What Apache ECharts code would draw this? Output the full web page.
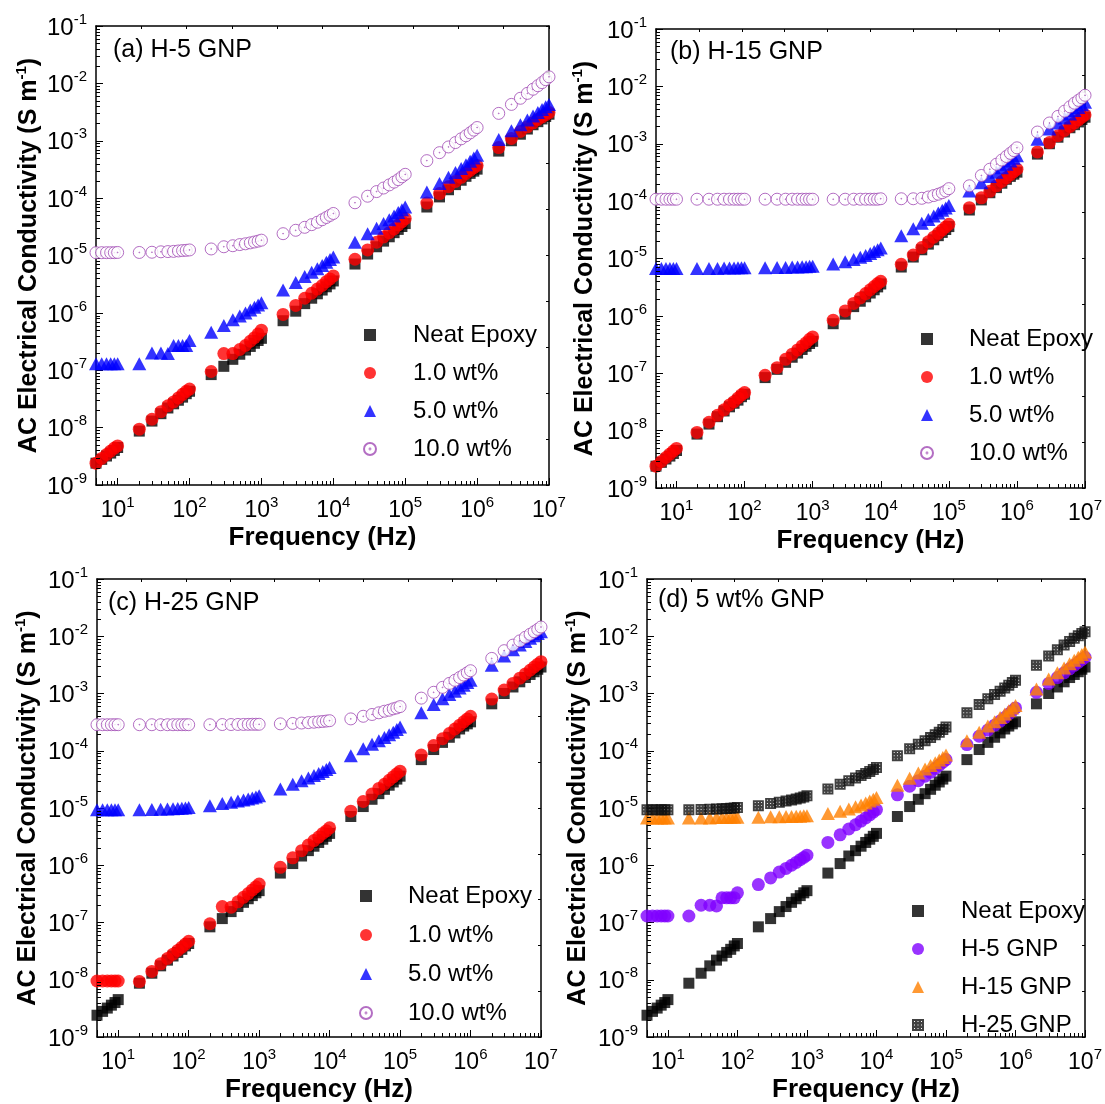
<!DOCTYPE html>
<html>
<head>
<meta charset="utf-8">
<title>AC Electrical Conductivity vs Frequency</title>
<script src="https://cdn.jsdelivr.net/npm/echarts@6/dist/echarts.min.js"></script>
<style>
  html, body { margin: 0; padding: 0; background: #ffffff; }
  #chart { width: 1105px; height: 1104px; }
</style>
</head>
<body>
<div id="chart"></div>
<script>
// Measurement frequencies (Hz)
const FREQ = [
  5, 6, 7, 8, 9, 10,
  20, 30, 40, 50, 60, 70, 80, 90, 100,
  200, 300, 400, 500, 600, 700, 800, 900, 1000,
  2000, 3000, 4000, 5000, 6000, 7000, 8000, 9000, 10000,
  2e4, 3e4, 4e4, 5e4, 6e4, 7e4, 8e4, 9e4, 1e5,
  2e5, 3e5, 4e5, 5e5, 6e5, 7e5, 8e5, 9e5, 1e6,
  2e6, 3e6, 4e6, 5e6, 6e6, 7e6, 8e6, 9e6, 1e7
];

// AC conductivity (S/m) — neat epoxy
const NEAT = [
  2.4e-9, 2.8e-9, 3.2e-9, 3.6e-9, 4.0e-9, 4.5e-9,
  8.7e-9, 1.3e-8, 1.75e-8, 2.2e-8, 2.6e-8, 3.0e-8, 3.4e-8, 3.9e-8, 4.3e-8,
  8.4e-8, 1.17e-7, 1.55e-7, 1.9e-7, 2.25e-7, 2.6e-7, 2.95e-7, 3.3e-7, 3.6e-7,
  7.3e-7, 1.07e-6, 1.45e-6, 1.8e-6, 2.15e-6, 2.5e-6, 2.85e-6, 3.2e-6, 3.6e-6,
  7.1e-6, 1.06e-5, 1.42e-5, 1.78e-5, 2.12e-5, 2.5e-5, 2.85e-5, 3.2e-5, 3.6e-5,
  7.0e-5, 1.05e-4, 1.4e-4, 1.72e-4, 2.05e-4, 2.4e-4, 2.7e-4, 2.95e-4, 3.2e-4,
  6.6e-4, 1.0e-3, 1.3e-3, 1.6e-3, 1.9e-3, 2.15e-3, 2.4e-3, 2.65e-3, 2.9e-3
];

// H-5 GNP
const H5_1 = [
  2.4e-9, 2.9e-9, 3.4e-9, 3.9e-9, 4.4e-9, 4.8e-9,
  9.4e-9, 1.4e-8, 1.9e-8, 2.4e-8, 2.8e-8, 3.3e-8, 3.8e-8, 4.3e-8, 4.7e-8,
  9.5e-8, 1.95e-7, 1.95e-7, 2.3e-7, 2.7e-7, 3.2e-7, 3.7e-7, 4.3e-7, 5.0e-7,
  9.4e-7, 1.35e-6, 1.8e-6, 2.2e-6, 2.6e-6, 3.0e-6, 3.5e-6, 3.9e-6, 4.4e-6,
  8.6e-6, 1.25e-5, 1.7e-5, 2.1e-5, 2.5e-5, 2.9e-5, 3.4e-5, 3.9e-5, 4.4e-5,
  8.2e-5, 1.2e-4, 1.58e-4, 1.95e-4, 2.3e-4, 2.7e-4, 3.05e-4, 3.4e-4, 3.7e-4,
  7.6e-4, 1.1e-3, 1.45e-3, 1.75e-3, 2.05e-3, 2.35e-3, 2.6e-3, 2.85e-3, 3.1e-3
];
const H5_5 = [
  1.3e-7, 1.3e-7, 1.3e-7, 1.3e-7, 1.3e-7, 1.3e-7,
  1.3e-7, 2.0e-7, 2.0e-7, 1.95e-7, 2.7e-7, 2.7e-7, 2.7e-7, 2.7e-7, 3.3e-7,
  4.6e-7, 6.0e-7, 7.6e-7, 8.8e-7, 1.0e-6, 1.12e-6, 1.25e-6, 1.37e-6, 1.5e-6,
  2.5e-6, 3.4e-6, 4.3e-6, 5.1e-6, 5.9e-6, 6.7e-6, 7.6e-6, 8.5e-6, 9.4e-6,
  1.7e-5, 2.4e-5, 3.0e-5, 3.6e-5, 4.2e-5, 4.9e-5, 5.6e-5, 6.3e-5, 7.0e-5,
  1.28e-4, 1.8e-4, 2.3e-4, 2.8e-4, 3.3e-4, 3.8e-4, 4.4e-4, 5.0e-4, 5.6e-4,
  1.05e-3, 1.5e-3, 1.9e-3, 2.3e-3, 2.7e-3, 3.1e-3, 3.5e-3, 3.9e-3, 4.3e-3
];
const H5_10 = [
  1.12e-5, 1.12e-5, 1.12e-5, 1.12e-5, 1.12e-5, 1.13e-5,
  1.13e-5, 1.14e-5, 1.16e-5, 1.17e-5, 1.18e-5, 1.2e-5, 1.22e-5, 1.23e-5, 1.25e-5,
  1.3e-5, 1.42e-5, 1.48e-5, 1.55e-5, 1.6e-5, 1.66e-5, 1.72e-5, 1.78e-5, 1.85e-5,
  2.4e-5, 2.75e-5, 3.1e-5, 3.45e-5, 3.8e-5, 4.2e-5, 4.6e-5, 5.0e-5, 5.4e-5,
  8.3e-5, 1.08e-4, 1.3e-4, 1.5e-4, 1.7e-4, 1.9e-4, 2.1e-4, 2.35e-4, 2.6e-4,
  4.5e-4, 6.2e-4, 7.8e-4, 9.3e-4, 1.08e-3, 1.22e-3, 1.37e-3, 1.53e-3, 1.7e-3,
  3.0e-3, 4.3e-3, 5.5e-3, 6.7e-3, 7.9e-3, 9.1e-3, 1.03e-2, 1.16e-2, 1.3e-2
];

// H-15 GNP
const H15_1 = [
  2.4e-9, 2.9e-9, 3.4e-9, 3.9e-9, 4.4e-9, 4.9e-9,
  9.3e-9, 1.4e-8, 1.85e-8, 2.3e-8, 2.8e-8, 3.2e-8, 3.7e-8, 4.2e-8, 4.6e-8,
  9.2e-8, 1.25e-7, 1.75e-7, 2.15e-7, 2.55e-7, 3.0e-7, 3.4e-7, 3.9e-7, 4.3e-7,
  8.4e-7, 1.22e-6, 1.65e-6, 2.05e-6, 2.45e-6, 2.85e-6, 3.25e-6, 3.65e-6, 4.0e-6,
  7.9e-6, 1.15e-5, 1.55e-5, 1.95e-5, 2.35e-5, 2.75e-5, 3.15e-5, 3.55e-5, 3.95e-5,
  7.7e-5, 1.14e-4, 1.48e-4, 1.85e-4, 2.2e-4, 2.55e-4, 2.9e-4, 3.25e-4, 3.6e-4,
  7.2e-4, 1.05e-3, 1.38e-3, 1.7e-3, 2.0e-3, 2.3e-3, 2.6e-3, 2.9e-3, 3.2e-3
];
const H15_5 = [
  6.7e-6, 6.7e-6, 6.7e-6, 6.7e-6, 6.7e-6, 6.7e-6,
  6.7e-6, 6.7e-6, 6.7e-6, 6.8e-6, 6.8e-6, 6.8e-6, 6.9e-6, 6.9e-6, 6.9e-6,
  6.9e-6, 7.0e-6, 7.0e-6, 7.1e-6, 7.1e-6, 7.2e-6, 7.2e-6, 7.3e-6, 7.3e-6,
  8.0e-6, 8.8e-6, 9.6e-6, 1.05e-5, 1.13e-5, 1.22e-5, 1.32e-5, 1.42e-5, 1.52e-5,
  2.5e-5, 3.3e-5, 4.1e-5, 4.8e-5, 5.5e-5, 6.2e-5, 6.9e-5, 7.6e-5, 8.4e-5,
  1.5e-4, 2.1e-4, 2.7e-4, 3.2e-4, 3.8e-4, 4.4e-4, 5.0e-4, 5.6e-4, 6.2e-4,
  1.2e-3, 1.8e-3, 2.3e-3, 2.8e-3, 3.3e-3, 3.8e-3, 4.3e-3, 4.8e-3, 5.3e-3
];
const H15_10 = [
  1.08e-4, 1.08e-4, 1.08e-4, 1.08e-4, 1.08e-4, 1.08e-4,
  1.08e-4, 1.08e-4, 1.08e-4, 1.08e-4, 1.08e-4, 1.08e-4, 1.08e-4, 1.08e-4, 1.08e-4,
  1.08e-4, 1.08e-4, 1.08e-4, 1.08e-4, 1.08e-4, 1.08e-4, 1.08e-4, 1.08e-4, 1.08e-4,
  1.08e-4, 1.08e-4, 1.08e-4, 1.08e-4, 1.08e-4, 1.08e-4, 1.08e-4, 1.08e-4, 1.1e-4,
  1.1e-4, 1.1e-4, 1.12e-4, 1.18e-4, 1.25e-4, 1.32e-4, 1.4e-4, 1.5e-4, 1.65e-4,
  1.85e-4, 2.8e-4, 3.6e-4, 4.4e-4, 5.2e-4, 6.0e-4, 6.8e-4, 7.6e-4, 8.5e-4,
  1.6e-3, 2.3e-3, 3.0e-3, 3.7e-3, 4.4e-3, 5.1e-3, 5.7e-3, 6.3e-3, 7.0e-3
];

// H-25 GNP
const H25_1 = [
  9.5e-9, 9.5e-9, 9.5e-9, 9.5e-9, 9.5e-9, 9.5e-9,
  9.3e-9, 1.4e-8, 1.9e-8, 2.35e-8, 2.8e-8, 3.25e-8, 3.7e-8, 4.2e-8, 4.7e-8,
  9.5e-8, 1.9e-7, 1.85e-7, 2.3e-7, 2.75e-7, 3.2e-7, 3.7e-7, 4.2e-7, 4.7e-7,
  9.2e-7, 1.35e-6, 1.8e-6, 2.25e-6, 2.7e-6, 3.1e-6, 3.6e-6, 4.0e-6, 4.5e-6,
  8.8e-6, 1.3e-5, 1.75e-5, 2.2e-5, 2.6e-5, 3.05e-5, 3.5e-5, 3.95e-5, 4.4e-5,
  8.4e-5, 1.23e-4, 1.62e-4, 2.0e-4, 2.4e-4, 2.8e-4, 3.2e-4, 3.6e-4, 4.0e-4,
  8.0e-4, 1.15e-3, 1.5e-3, 1.85e-3, 2.2e-3, 2.55e-3, 2.9e-3, 3.25e-3, 3.6e-3
];
const H25_5 = [
  9.3e-6, 9.3e-6, 9.3e-6, 9.3e-6, 9.3e-6, 9.3e-6,
  9.3e-6, 9.4e-6, 9.5e-6, 9.6e-6, 9.7e-6, 9.8e-6, 9.9e-6, 1.0e-5, 1.02e-5,
  1.1e-5, 1.2e-5, 1.26e-5, 1.32e-5, 1.38e-5, 1.44e-5, 1.5e-5, 1.56e-5, 1.63e-5,
  2.15e-5, 2.6e-5, 3.0e-5, 3.35e-5, 3.7e-5, 4.0e-5, 4.35e-5, 4.7e-5, 5.1e-5,
  8.2e-5, 1.08e-4, 1.3e-4, 1.5e-4, 1.7e-4, 1.9e-4, 2.1e-4, 2.35e-4, 2.6e-4,
  4.6e-4, 6.4e-4, 8.1e-4, 9.6e-4, 1.1e-3, 1.25e-3, 1.4e-3, 1.55e-3, 1.7e-3,
  3.1e-3, 4.5e-3, 5.8e-3, 7.0e-3, 8.1e-3, 9.2e-3, 1.02e-2, 1.12e-2, 1.2e-2
];
const H25_10 = [
  2.85e-4, 2.85e-4, 2.85e-4, 2.85e-4, 2.85e-4, 2.85e-4,
  2.85e-4, 2.85e-4, 2.85e-4, 2.85e-4, 2.85e-4, 2.85e-4, 2.85e-4, 2.85e-4, 2.85e-4,
  2.85e-4, 2.87e-4, 2.87e-4, 2.88e-4, 2.88e-4, 2.89e-4, 2.9e-4, 2.9e-4, 2.9e-4,
  2.95e-4, 3.0e-4, 3.05e-4, 3.1e-4, 3.15e-4, 3.2e-4, 3.25e-4, 3.3e-4, 3.35e-4,
  3.6e-4, 4.0e-4, 4.3e-4, 4.6e-4, 4.9e-4, 5.1e-4, 5.4e-4, 5.6e-4, 5.9e-4,
  8.3e-4, 1.05e-3, 1.28e-3, 1.5e-3, 1.7e-3, 1.9e-3, 2.1e-3, 2.3e-3, 2.5e-3,
  4.1e-3, 5.6e-3, 7.0e-3, 8.3e-3, 9.6e-3, 1.08e-2, 1.2e-2, 1.32e-2, 1.45e-2
];

// Panel titles and legend names
const PANEL_TITLES = ['(a) H-5 GNP', '(b) H-15 GNP', '(c) H-25 GNP', '(d) 5 wt% GNP'];
const LOADING_NAMES = ['Neat Epoxy', '1.0 wt%', '5.0 wt%', '10.0 wt%'];
const FILLER_NAMES = ['Neat Epoxy', 'H-5 GNP', 'H-15 GNP', 'H-25 GNP'];

// Axis ranges and decade tick exponents
const X_RANGE = [5, 1e7];
const Y_RANGE = [1e-9, 1e-1];
const X_TICK_EXPONENTS = [1, 2, 3, 4, 5, 6, 7];
const Y_TICK_EXPONENTS = [-9, -8, -7, -6, -5, -4, -3, -2, -1];

const X_TITLE = 'Frequency (Hz)';
const Y_TITLE = '{n|AC Electrical Conductivity (S m}{s|-1}{n|)}';

// ---------------------------------------------------------------------------
const FONT = '"Liberation Sans", Arial, Helvetica, sans-serif';

const RING = 'path://M10,0A10,10,0,1,1,10,20A10,10,0,1,1,10,0Z M10,9.3A0.7,0.7,0,1,1,10,10.7A0.7,0.7,0,1,1,10,9.3Z';
const DOTTED_SQUARE = 'path://M0,0H12V12H0Z M2,2V3H3V2Z M5.5,2V3H6.5V2Z M9,2V3H10V2Z M2,5.5V6.5H3V5.5Z M5.5,5.5V6.5H6.5V5.5Z M9,5.5V6.5H10V5.5Z M2,9V10H3V9Z M5.5,9V10H6.5V9Z M9,9V10H10V9Z';

const MARKERS = {
  'Neat Epoxy': { symbol: 'rect', symbolSize: 11, itemStyle: { color: '#000000' } },
  '1.0 wt%':    { symbol: 'circle', symbolSize: 13, itemStyle: { color: '#ff0000' } },
  '5.0 wt%':    { symbol: 'triangle', symbolSize: [14, 13], itemStyle: { color: '#0000ff' } },
  '10.0 wt%':   { symbol: RING, symbolSize: 12, itemStyle: { color: '#ffffff', borderColor: '#a04ab4', borderWidth: 1 } },
  'H-5 GNP':    { symbol: 'circle', symbolSize: 13, itemStyle: { color: '#8000ff' } },
  'H-15 GNP':   { symbol: 'triangle', symbolSize: [14, 13], itemStyle: { color: '#ff8000' } },
  'H-25 GNP':   { symbol: DOTTED_SQUARE, symbolSize: 11, itemStyle: { color: '#111111' } }
};

// layout of the four panels
const PANELS = [
  { grid: { left: 96, top: 26, width: 453, height: 459 }, title: [113, 50], yGap: 54, xGap: 40,
    legend: { left: 363, top: 323, gap: 14, pad: 32 }, names: LOADING_NAMES, sets: [NEAT, H5_1, H5_5, H5_10] },
  { grid: { left: 656, top: 29, width: 435, height: 459 }, title: [670, 52], yGap: 58, xGap: 40,
    legend: { left: 920, top: 327, gap: 14, pad: 31 }, names: LOADING_NAMES, sets: [NEAT, H15_1, H15_5, H15_10] },
  { grid: { left: 97, top: 579, width: 444, height: 464 }, title: [108, 603], yGap: 56, xGap: 40,
    legend: { left: 359, top: 884, gap: 15, pad: 31 }, names: LOADING_NAMES, sets: [NEAT, H25_1, H25_5, H25_10] },
  { grid: { left: 647, top: 579, width: 446, height: 464 }, title: [658, 600], yGap: 56, xGap: 40,
    legend: { left: 912, top: 899, gap: 14, pad: 32 }, names: FILLER_NAMES, sets: [NEAT, H5_5, H15_5, H25_5] }
];

function powerLabel(exponents) {
  return function (value) {
    const e = Math.log10(value);
    const r = Math.round(e);
    if (Math.abs(e - r) > 1e-6 || exponents.indexOf(r) < 0) return '';
    return '{b|10}{s|' + r + '}';
  };
}

function labelRich(base, sup) {
  return {
    b: { fontSize: base, fontFamily: FONT, color: '#000', lineHeight: base + 4, verticalAlign: 'bottom' },
    s: { fontSize: sup, fontFamily: FONT, color: '#000', lineHeight: sup, verticalAlign: 'top' }
  };
}

// minor tick values at 2..9 x 10^n inside each range
function minorTicks(range) {
  const out = [];
  const lo = Math.floor(Math.log10(range[0]));
  const hi = Math.ceil(Math.log10(range[1]));
  for (let e = lo; e < hi; e++) {
    for (let m = 2; m <= 9; m++) {
      const v = m * Math.pow(10, e);
      if (v > range[0] * 1.0001 && v < range[1] * 0.9999) out.push(v);
    }
  }
  return out;
}
const X_MINOR = minorTicks(X_RANGE);
const Y_MINOR = minorTicks(Y_RANGE);

function tickSeries(gi, axis) {
  const data = axis === 'x'
    ? X_MINOR.map(v => [v, Y_RANGE[0]])
    : Y_MINOR.map(v => [X_RANGE[0], v]);
  return {
    type: 'custom', xAxisIndex: 2 * gi, yAxisIndex: 2 * gi, silent: true, clip: false, z: 5,
    animation: false, data: data,
    renderItem: function (params, api) {
      const p = api.coord([api.value(0), api.value(1)]);
      const x = Math.round(p[0]) + 0.5, y = Math.round(p[1]) + 0.5;
      const shape = axis === 'x'
        ? { x1: x, y1: p[1], x2: x, y2: p[1] - 4 }
        : { x1: p[0], y1: y, x2: p[0] + 4, y2: y };
      return { type: 'line', shape: shape, style: { stroke: '#000', lineWidth: 1 } };
    }
  };
}

const grids = [], xAxes = [], yAxes = [], series = [], legends = [], graphics = [];
const axisLine = { show: true, onZero: false, lineStyle: { color: '#000', width: 1.5 } };

PANELS.forEach(function (p, i) {
  grids.push(Object.assign({ containLabel: false, show: false }, p.grid));

  xAxes.push({
    gridIndex: i, type: 'log', logBase: 10, min: X_RANGE[0], max: X_RANGE[1], splitNumber: 7,
    position: 'bottom', axisLine: axisLine,
    axisTick: { show: true, inside: true, length: 7, lineStyle: { color: '#000', width: 1 } },
    minorTick: { show: false }, splitLine: { show: false },
    axisLabel: { formatter: powerLabel(X_TICK_EXPONENTS), margin: 10, rich: labelRich(23, 15) },
    name: X_TITLE, nameLocation: 'middle', nameGap: p.xGap,
    nameTextStyle: { fontSize: 26, fontWeight: 'bold', fontFamily: FONT, color: '#000' }
  });
  xAxes.push({
    gridIndex: i, type: 'value', position: 'top', min: 0, max: 10, interval: 1,
    axisLine: axisLine, axisTick: { show: true, inside: true, length: 3, lineStyle: { color: '#000' } },
    axisLabel: { show: false }, splitLine: { show: false }
  });

  yAxes.push({
    gridIndex: i, type: 'log', logBase: 10, min: Y_RANGE[0], max: Y_RANGE[1], splitNumber: 8,
    position: 'left', axisLine: axisLine,
    axisTick: { show: true, inside: true, length: 7, lineStyle: { color: '#000', width: 1 } },
    minorTick: { show: false }, splitLine: { show: false },
    axisLabel: { formatter: powerLabel(Y_TICK_EXPONENTS), margin: 9, rich: labelRich(24, 15) },
    name: Y_TITLE, nameLocation: 'middle', nameGap: p.yGap,
    nameTextStyle: {
      rich: {
        n: { fontSize: 25, fontWeight: 'bold', fontFamily: FONT, color: '#000', lineHeight: 28, verticalAlign: 'bottom' },
        s: { fontSize: 15, fontWeight: 'bold', fontFamily: FONT, color: '#000', lineHeight: 16, verticalAlign: 'top' }
      }
    }
  });
  yAxes.push({
    gridIndex: i, type: 'value', position: 'right', min: 0, max: 10, interval: 1,
    axisLine: axisLine, axisTick: { show: true, inside: true, length: 3, lineStyle: { color: '#000' } },
    axisLabel: { show: false }, splitLine: { show: false }
  });

  p.names.forEach(function (name, k) {
    const m = MARKERS[name];
    series.push({
      type: 'scatter', name: name, xAxisIndex: 2 * i, yAxisIndex: 2 * i,
      symbol: m.symbol, symbolSize: m.symbolSize, itemStyle: m.itemStyle,
      data: FREQ.map(function (f, j) { return [f, p.sets[k][j]]; }),
      emphasis: { disabled: true }, animation: false, z: 2 + k
    });
  });
  series.push(tickSeries(i, 'x'));
  series.push(tickSeries(i, 'y'));

  legends.push({
    data: p.names, orient: 'vertical', left: p.legend.left, top: p.legend.top,
    itemWidth: 12, itemHeight: 12, itemGap: p.legend.gap, padding: 0, selectedMode: false,
    formatter: function (name) { return '{t|' + name + '}'; },
    textStyle: {
      color: '#000', fontFamily: FONT, fontSize: 24,
      rich: { t: { fontSize: 24, fontFamily: FONT, color: '#000', lineHeight: 24, padding: [0, 0, 0, p.legend.pad] } }
    }
  });

  graphics.push({
    type: 'text', x: p.title[0], y: p.title[1], silent: true,
    style: { text: PANEL_TITLES[i], fontSize: 25, fontFamily: FONT, fill: '#000', verticalAlign: 'middle' }
  });
});

const chart = echarts.init(document.getElementById('chart'), null, { renderer: 'canvas' });
chart.setOption({
  backgroundColor: '#ffffff',
  animation: false,
  textStyle: { fontFamily: FONT, color: '#000' },
  grid: grids,
  xAxis: xAxes,
  yAxis: yAxes,
  legend: legends,
  graphic: graphics,
  series: series
});
</script>
</body>
</html>
